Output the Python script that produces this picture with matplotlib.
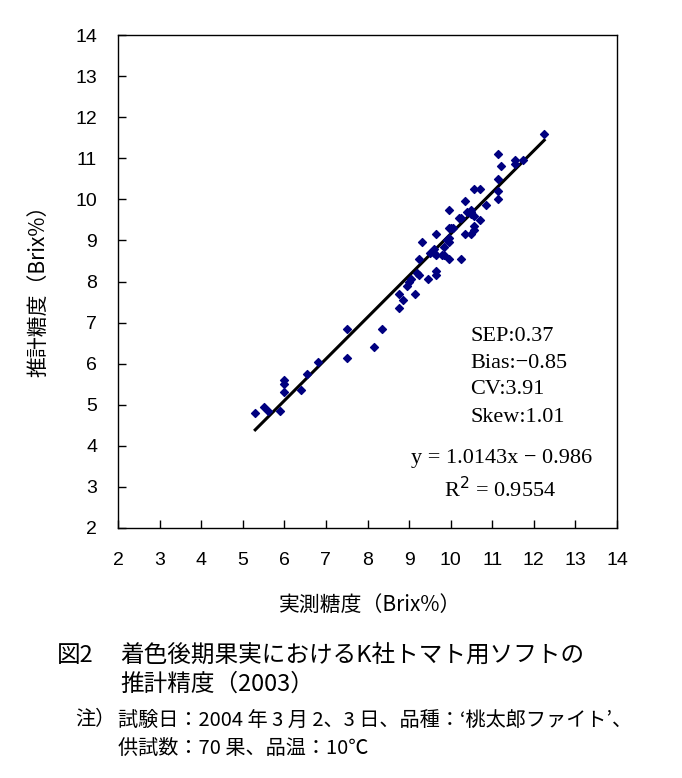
import matplotlib
matplotlib.use("Agg")
import matplotlib.pyplot as plt
import numpy as np

measured = [5.3, 5.5, 5.6, 5.9, 6.0, 6.0, 6.0, 6.4, 6.55, 6.8,
            7.5, 7.5, 8.15, 8.35, 8.75, 8.85, 8.75, 9.15, 8.95, 9.05,
            9.2, 9.25, 9.45, 9.65, 9.65, 9.25, 9.3, 9.6, 9.65, 9.8,
            9.85, 9.95, 10.25, 9.85, 9.95, 9.95, 9.65, 9.95, 10.05, 10.35,
            10.5, 10.55, 10.55, 10.2, 10.25, 10.55, 10.7, 9.95, 10.5, 10.5,
            10.35, 10.85, 10.55, 10.7, 11.15, 11.15, 11.15, 11.2, 11.15, 11.55,
            11.55, 11.75, 12.25, 10.0, 9.6, 10.5, 9.0, 9.5, 10.4, 9.9]
estimated = [4.8, 4.95, 4.85, 4.85, 5.6, 5.5, 5.3, 5.35, 5.75, 6.05,
             6.85, 6.15, 6.4, 6.85, 7.35, 7.55, 7.7, 7.7, 7.9, 8.05,
             8.2, 8.15, 8.05, 8.25, 8.15, 8.55, 8.95, 8.8, 8.65, 8.65,
             8.65, 8.55, 8.55, 8.85, 8.95, 9.05, 9.15, 9.3, 9.3, 9.15,
             9.15, 9.35, 9.25, 9.55, 9.55, 9.6, 9.5, 9.75, 9.75, 9.65,
             9.95, 9.85, 10.25, 10.25, 10.0, 10.2, 10.5, 10.8, 11.1, 10.95,
             10.85, 10.95, 11.6, 9.3, 8.7, 9.7, 8.0, 8.7, 9.7, 9.0]
slope = 1.0143
intercept = -0.986
ticks = list(range(2, 15))

stats_lines = ["SEP:0.37", "Bias:\u22120.85", "CV:3.91", "Skew:1.01"]
eq_text = "y = 1.0143x \u2212 0.986"
r2_text = "R$^2$ = 0.9554"

jp = ['Noto Sans CJK JP', 'DejaVu Sans']
serif = ['Liberation Serif', 'DejaVu Serif']
tickfont = ['Liberation Sans Narrow', 'Liberation Sans', 'DejaVu Sans']

fig = plt.figure(figsize=(6.82, 7.78), dpi=100)
ax = fig.add_axes([118 / 682, 1 - 528 / 778, 499 / 682, 493 / 778])

ax.scatter(measured, estimated, marker='D', s=16, color='#000080', zorder=3)
xl = np.array([min(measured), max(measured)])
ax.plot(xl, slope * xl + intercept, color='black', lw=2.2, zorder=2)

ax.set_xlim(2, 14)
ax.set_ylim(2, 14)
ax.set_xticks(ticks)
ax.set_yticks(ticks)
ax.tick_params(direction='in', length=6, width=1, labelsize=14)
ax.tick_params(axis='x', pad=17)
ax.tick_params(axis='y', pad=15)
for lab in ax.get_xticklabels() + ax.get_yticklabels():
    lab.set_family(tickfont)
for sp in ax.spines.values():
    sp.set_linewidth(1)

def ftext(x, y, s, **kw):
    fig.text(x / 682, 1 - y / 778, s, **kw)

for i, s in enumerate(stats_lines):
    ftext(470, 336 + 27 * i, s, family=serif, fontsize=16, ha='left', va='center')
ftext(502, 459, eq_text, family=serif, fontsize=16, ha='center', va='center')
ftext(500, 490, r2_text, family=serif, fontsize=16, ha='center', va='center')

ftext(38, 286, "推計糖度（Brix%）", rotation=90, family=jp, fontsize=15,
      ha='center', va='center')
ftext(370, 605, "実測糖度（Brix%）", family=jp, fontsize=15, ha='center', va='center')

ftext(57, 655, "図2", family=jp, fontsize=17, ha='left', va='center')
ftext(120, 655, "着色後期果実におけるK社トマト用ソフトの", family=jp, fontsize=17,
      ha='left', va='center')
ftext(120, 684, "推計精度（2003）", family=jp, fontsize=17, ha='left', va='center')
ftext(75, 720, "注）", family=jp, fontsize=14.5, ha='left', va='center')
ftext(118, 720, "試験日：2004 年 3 月 2、3 日、品種：‘桃太郎ファイト’、", family=jp,
      fontsize=14.5, ha='left', va='center')
ftext(118, 748, "供試数：70 果、品温：10℃", family=jp, fontsize=14.5,
      ha='left', va='center')

fig.savefig("out.png", dpi=100)
